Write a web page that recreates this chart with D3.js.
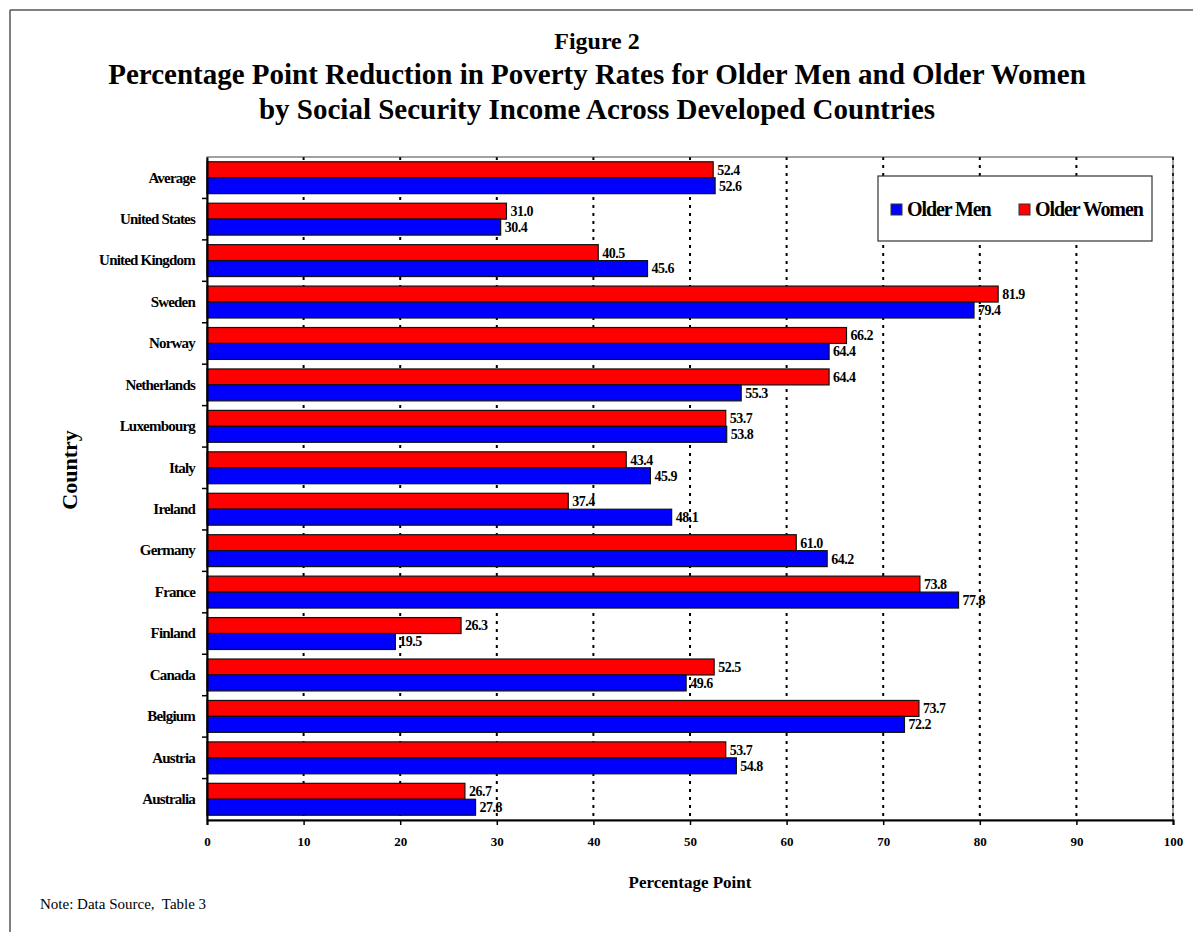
<!DOCTYPE html>
<html><head><meta charset="utf-8">
<script src="https://cdn.jsdelivr.net/npm/d3@7"></script>
<style>
body{margin:0;background:#fff;}
svg{display:block;font-family:"Liberation Serif","Times New Roman",serif;}
</style></head><body>
<svg id="chart" width="1193" height="932"></svg>
<script>
const categories = ["Average","United States","United Kingdom","Sweden","Norway","Netherlands","Luxembourg","Italy","Ireland","Germany","France","Finland","Canada","Belgium","Austria","Australia"];
const olderWomen = [52.4,31.0,40.5,81.9,66.2,64.4,53.7,43.4,37.4,61.0,73.8,26.3,52.5,73.7,53.7,26.7];
const olderMen   = [52.6,30.4,45.6,79.4,64.4,55.3,53.8,45.9,48.1,64.2,77.8,19.5,49.6,72.2,54.8,27.8];
const xTicks = [0,10,20,30,40,50,60,70,80,90,100];
const seriesNames = ["Older Men","Older Women"];
const seriesColors = ["#0000ff","#ff0000"];

const svg = d3.select("#chart");
const L = 207, R = 1173, T = 157, B = 820;

// outer frame
svg.append("line").attr("x1",10).attr("x2",1193).attr("y1",10).attr("y2",10).attr("stroke","#555").attr("stroke-width",1.5);
svg.append("line").attr("x1",10).attr("x2",10).attr("y1",10).attr("y2",932).attr("stroke","#555").attr("stroke-width",1.5);

// titles
const cx = 597;
svg.append("text").attr("x",cx).attr("y",49).attr("text-anchor","middle").attr("font-weight","bold").attr("font-size",24).text("Figure 2");
svg.append("text").attr("x",cx).attr("y",84).attr("text-anchor","middle").attr("font-weight","bold").attr("font-size",29).text("Percentage Point Reduction in Poverty Rates for Older Men and Older Women");
svg.append("text").attr("x",cx).attr("y",119).attr("text-anchor","middle").attr("font-weight","bold").attr("font-size",29).text("by Social Security Income Across Developed Countries");

const x = d3.scaleLinear().domain([0,100]).range([L,R]);
const y = d3.scaleBand().domain(categories).range([T,B]).paddingInner(0.23).paddingOuter(0.115);
const sub = d3.scaleBand().domain(["w","m"]).range([0,y.bandwidth()]);

// gridlines
svg.append("g").selectAll("line").data(xTicks.filter(d=>d>0)).join("line")
  .attr("x1",d=>x(d)).attr("x2",d=>x(d)).attr("y1",T).attr("y2",B)
  .attr("stroke","#000").attr("stroke-width",2).attr("stroke-dasharray","3,5");

// plot frame
svg.append("rect").attr("x",L).attr("y",T).attr("width",R-L).attr("height",B-T)
  .attr("fill","none").attr("stroke","#444").attr("stroke-width",1);

// bars
const g = svg.append("g");
const rows = categories.map((c,i)=>({c, w:olderWomen[i], m:olderMen[i]}));
const grp = g.selectAll("g").data(rows).join("g").attr("transform",d=>`translate(0,${y(d.c)})`);
grp.append("rect").attr("x",x(0)).attr("y",sub("w")).attr("width",d=>x(d.w)-x(0)).attr("height",sub.bandwidth())
  .attr("fill",seriesColors[1]).attr("stroke","#111").attr("stroke-width",1.2);
grp.append("rect").attr("x",x(0)).attr("y",sub("m")).attr("width",d=>x(d.m)-x(0)).attr("height",sub.bandwidth())
  .attr("fill",seriesColors[0]).attr("stroke","#111").attr("stroke-width",1.2);
grp.append("text").attr("x",d=>x(d.w)+4).attr("y",sub("w")+sub.bandwidth()/2).attr("dy","0.35em")
  .attr("font-weight","bold").attr("font-size",14).attr("letter-spacing",-0.5).text(d=>d.w.toFixed(1));
grp.append("text").attr("x",d=>x(d.m)+4).attr("y",sub("m")+sub.bandwidth()/2).attr("dy","0.35em")
  .attr("font-weight","bold").attr("font-size",14).attr("letter-spacing",-0.5).text(d=>d.m.toFixed(1));

// x axis
const xAxis = svg.append("g").attr("transform",`translate(0,${B})`)
  .call(d3.axisBottom(x).tickValues(xTicks).tickSize(5).tickPadding(12).tickFormat(d3.format("d")));
xAxis.select(".domain").attr("stroke","#000").attr("stroke-width",2);
xAxis.selectAll(".tick line").attr("stroke","#000").attr("stroke-width",1.5);
xAxis.selectAll("text").attr("font-family","Liberation Serif").attr("font-weight","bold").attr("font-size",13).attr("fill","#000");

// y axis
const yAxis = svg.append("g").attr("transform",`translate(${L},0)`)
  .call(d3.axisLeft(y).tickSize(0).tickPadding(12));
yAxis.select(".domain").attr("stroke","#000").attr("stroke-width",2);
yAxis.selectAll("text").attr("font-family","Liberation Serif").attr("font-weight","bold").attr("font-size",15).attr("letter-spacing",-0.8).attr("fill","#000");
// band boundary ticks
const bounds = categories.slice(1).map(c=>y(c)-y.step()*y.paddingInner()/2);
svg.append("g").selectAll("line").data(bounds).join("line")
  .attr("x1",L-5).attr("x2",L).attr("y1",d=>d).attr("y2",d=>d).attr("stroke","#000").attr("stroke-width",1.5);

// axis titles
svg.append("text").attr("transform","translate(77,470) rotate(-90)").attr("text-anchor","middle")
  .attr("font-weight","bold").attr("font-size",22).text("Country");
svg.append("text").attr("x",690).attr("y",888).attr("text-anchor","middle")
  .attr("font-weight","bold").attr("font-size",17).text("Percentage Point");
svg.append("text").attr("x",40).attr("y",909).attr("font-size",15).style("white-space","pre").text("Note: Data Source,  Table 3");

// legend
const lg = svg.append("g");
lg.append("rect").attr("x",878).attr("y",176).attr("width",274).attr("height",65).attr("fill","#fff").attr("stroke","#333").attr("stroke-width",1.2);
const legItems = [{n:seriesNames[0],c:seriesColors[0],x:891},{n:seriesNames[1],c:seriesColors[1],x:1019}];
legItems.forEach(it=>{
  lg.append("rect").attr("x",it.x).attr("y",204).attr("width",11).attr("height",11).attr("fill",it.c).attr("stroke","#333");
  lg.append("text").attr("x",it.x+16).attr("y",216).attr("font-weight","bold").attr("font-size",20).attr("letter-spacing",-1.1).text(it.n);
});
</script>
</body></html>
